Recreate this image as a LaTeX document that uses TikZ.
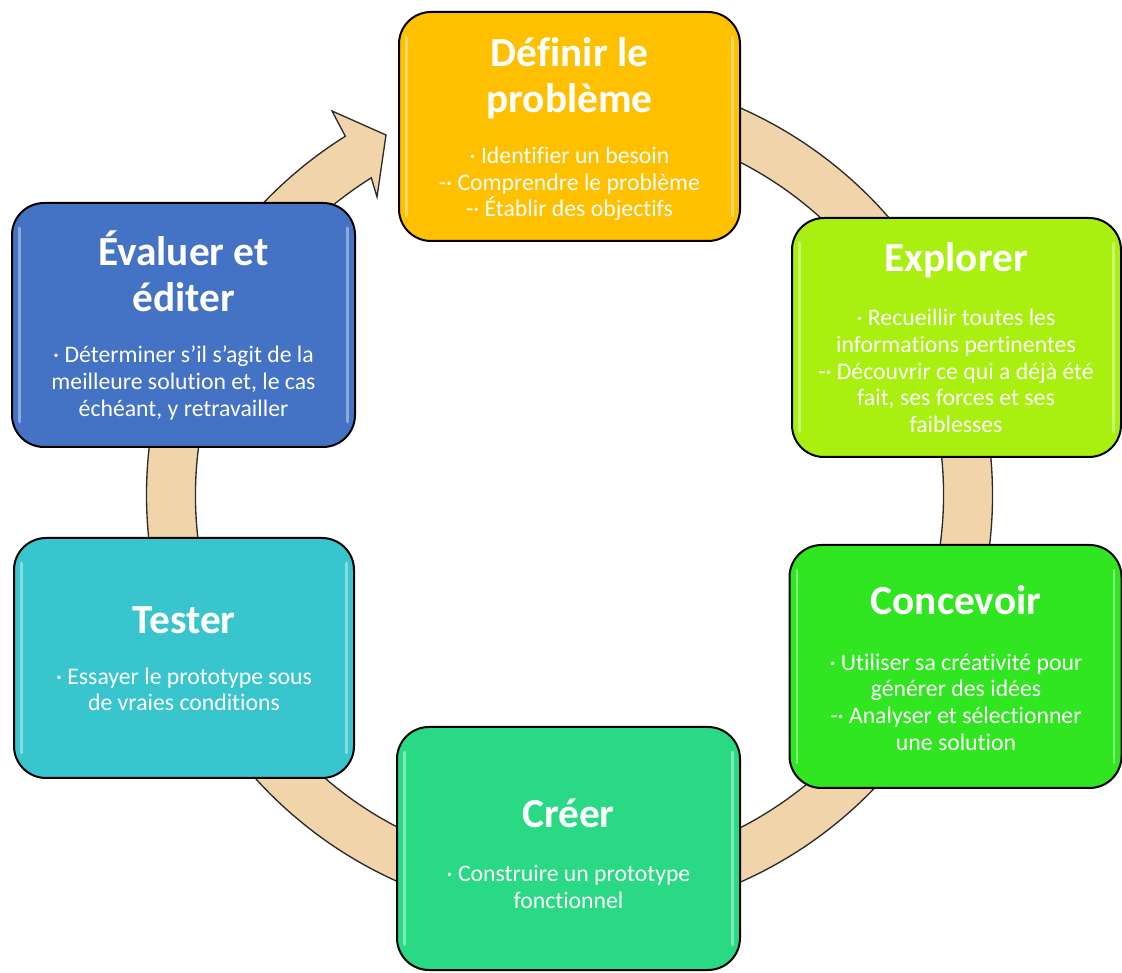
\documentclass[tikz,border=0pt]{standalone}
\usepackage{fontspec}
\setmainfont[Ligatures=NoCommon]{Carlito}
\usetikzlibrary{calc}

\definecolor{defcol}{HTML}{FFC000}
\definecolor{expcol}{HTML}{A9EF10}
\definecolor{concol}{HTML}{2FE620}
\definecolor{crecol}{HTML}{2AD983}
\definecolor{tescol}{HTML}{38C5CE}
\definecolor{evacol}{HTML}{4472C4}
\definecolor{ringfill}{HTML}{F2D4AA}
\definecolor{ringline}{HTML}{2B2B2B}

\newcommand\stagehead{\fontsize{31}{34.5}\selectfont\bfseries}
\newcommand\stagebody{\fontsize{17.8}{20}\selectfont}

\tikzset{
  stage/.style 2 args={draw=black, line width=1.5pt, rounded corners=24pt,
    inner sep=0pt, minimum width=#1*0.75pt, minimum height=#2*0.75pt},
  head/.style={text=white, font=\stagehead, align=center, inner sep=0pt},
  body/.style={text=white, font=\stagebody, align=center, inner sep=0pt},
  ring/.style={fill=ringfill, draw=ringline, line width=1pt, line join=miter},
  gloss/.style={draw=white, opacity=0.4, line width=2.2pt, line cap=round},
}

% glossy edge highlights on a stage box
\newcommand\glossy[1]{%
  \draw[gloss] ($(#1.north west)+(8.5,-26)$) -- ($(#1.south west)+(8.5,26)$);
  \draw[gloss] ($(#1.north east)+(-8.5,-26)$) -- ($(#1.south east)+(-8.5,26)$);
}

\begin{document}
\begin{tikzpicture}[x=0.75pt, y=0.75pt]
\useasboundingbox (0,0) rectangle (1122,972);

% cycle ring with arrow head
\coordinate (c) at (569.5,477);
\coordinate (wo) at (332,861);
\coordinate (tip) at (386,837);
\coordinate (wi) at (377,775);
\filldraw[ring] ($(c)+(95:317.25pt)$)
  arc[start angle=95, end angle=-238, radius=317.25pt]
  -- (wo) -- (tip) -- (wi)
  -- ($(c)+(122:280.5pt)$)
  arc[start angle=-238, end angle=95, radius=280.5pt] -- cycle;

% stage boxes
\node[stage={341}{229}, fill=defcol] (def) at (569.5,845.5) {};
\node[stage={329}{239}, fill=expcol] (exp) at (956.5,634.5) {};
\node[stage={332}{243}, fill=concol] (con) at (955.5,305.5) {};
\node[stage={343}{243}, fill=crecol] (cre) at (568.5,123.5) {};
\node[stage={340}{240}, fill=tescol] (tes) at (184,314) {};
\node[stage={343}{244}, fill=evacol] (eva) at (183.5,647) {};

\glossy{def}
\glossy{exp}
\glossy{con}
\glossy{cre}
\glossy{tes}
\glossy{eva}

% titles
\node[head] (def-t) at (569.5,893.5) {Définir le\\problème};
\node[head, anchor=base] (exp-t) at (956,700) {Explorer};
\node[head, anchor=base] (con-t) at (956,357) {Concevoir};
\node[head, anchor=base] (cre-t) at (568.5,144) {Créer};
\node[head, anchor=base] (tes-t) at (184,338) {Tester};
\node[head] (eva-t) at (183.5,701) {Évaluer et\\éditer};

% descriptions
\node[body] (def-b) at (569.5,788) {· Identifier un besoin\\-· Comprendre le problème\\-· Établir des objectifs};
\node[body] (exp-b) at (956,601) {· Recueillir toutes les\\informations pertinentes\\-· Découvrir ce qui a déjà été\\fait, ses forces et ses\\faiblesses};
\node[body] (con-b) at (956,270) {· Utiliser sa créativité pour\\générer des idées\\-· Analyser et sélectionner\\une solution};
\node[body] (cre-b) at (568.5,85) {· Construire un prototype\\fonctionnel};
\node[body] (tes-b) at (184,282.5) {· Essayer le prototype sous\\de vraies conditions};
\node[body] (eva-b) at (183.5,589) {· Déterminer s’il s’agit de la\\meilleure solution et, le cas\\échéant, y retravailler};
\end{tikzpicture}
\end{document}
